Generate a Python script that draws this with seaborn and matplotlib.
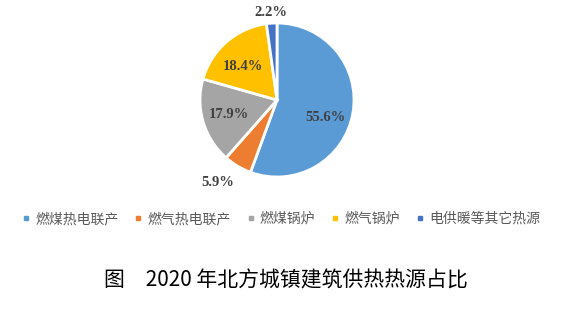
import numpy as np
import matplotlib
matplotlib.use("Agg")
import matplotlib.pyplot as plt
import seaborn as sns
from matplotlib.lines import Line2D

categories = ["燃煤热电联产", "燃气热电联产", "燃煤锅炉", "燃气锅炉", "电供暖等其它热源"]
values = [55.6, 5.9, 17.9, 18.4, 2.2]
colors = ["#5B9BD5", "#ED7D31", "#A5A5A5", "#FFC000", "#4472C4"]
title = "图　2020 年北方城镇建筑供热热源占比"

sns.set_theme(style="white")
plt.rcParams['font.family'] = ['Noto Sans CJK SC', 'DejaVu Sans']

W, H = 562, 312
fig = plt.figure(figsize=(W/100, H/100), dpi=100)
cx, cy, r = 277, 100, 77
ax = fig.add_axes([(cx - r)/W, (H - cy - r)/H, 2*r/W, 2*r/H])

wedges, texts, autotexts = ax.pie(
    values, colors=colors, startangle=90, counterclock=False,
    autopct=lambda p: f"{p:.1f}%", pctdistance=0.65,
    wedgeprops=dict(edgecolor="white", linewidth=2),
    textprops=dict(family="Liberation Serif", fontweight="bold", fontsize=10.5, color="#404040"))
ax.set_xlim(-1, 1)
ax.set_ylim(-1, 1)
ax.set_aspect("equal")

# label placement: (distance, angle shift in degrees)
place = {0: (0.67, -10), 1: (1.32, -5), 4: (1.14, 0), 3: (0.62, 4)}
for i, (w, t) in enumerate(zip(wedges, autotexts)):
    if i in place:
        d, sh = place[i]
        th = np.deg2rad((w.theta1 + w.theta2) / 2 + sh)
        t.set_position((d*np.cos(th), d*np.sin(th)))

handles = [Line2D([0], [0], marker="s", linestyle="", markersize=3.5,
                  markerfacecolor=c, markeredgecolor=c) for c in colors]
fig.legend(handles, categories, loc="center", bbox_to_anchor=(0.5, 1 - 219/H),
           ncol=5, frameon=False, fontsize=10, handlelength=0.6, handletextpad=0.35,
           columnspacing=1.15, labelcolor="#595959")

fig.text(0.509, 1 - 280/H, title, ha="center", va="center", fontsize=15, color="black")

fig.savefig("out.png", dpi=100)
